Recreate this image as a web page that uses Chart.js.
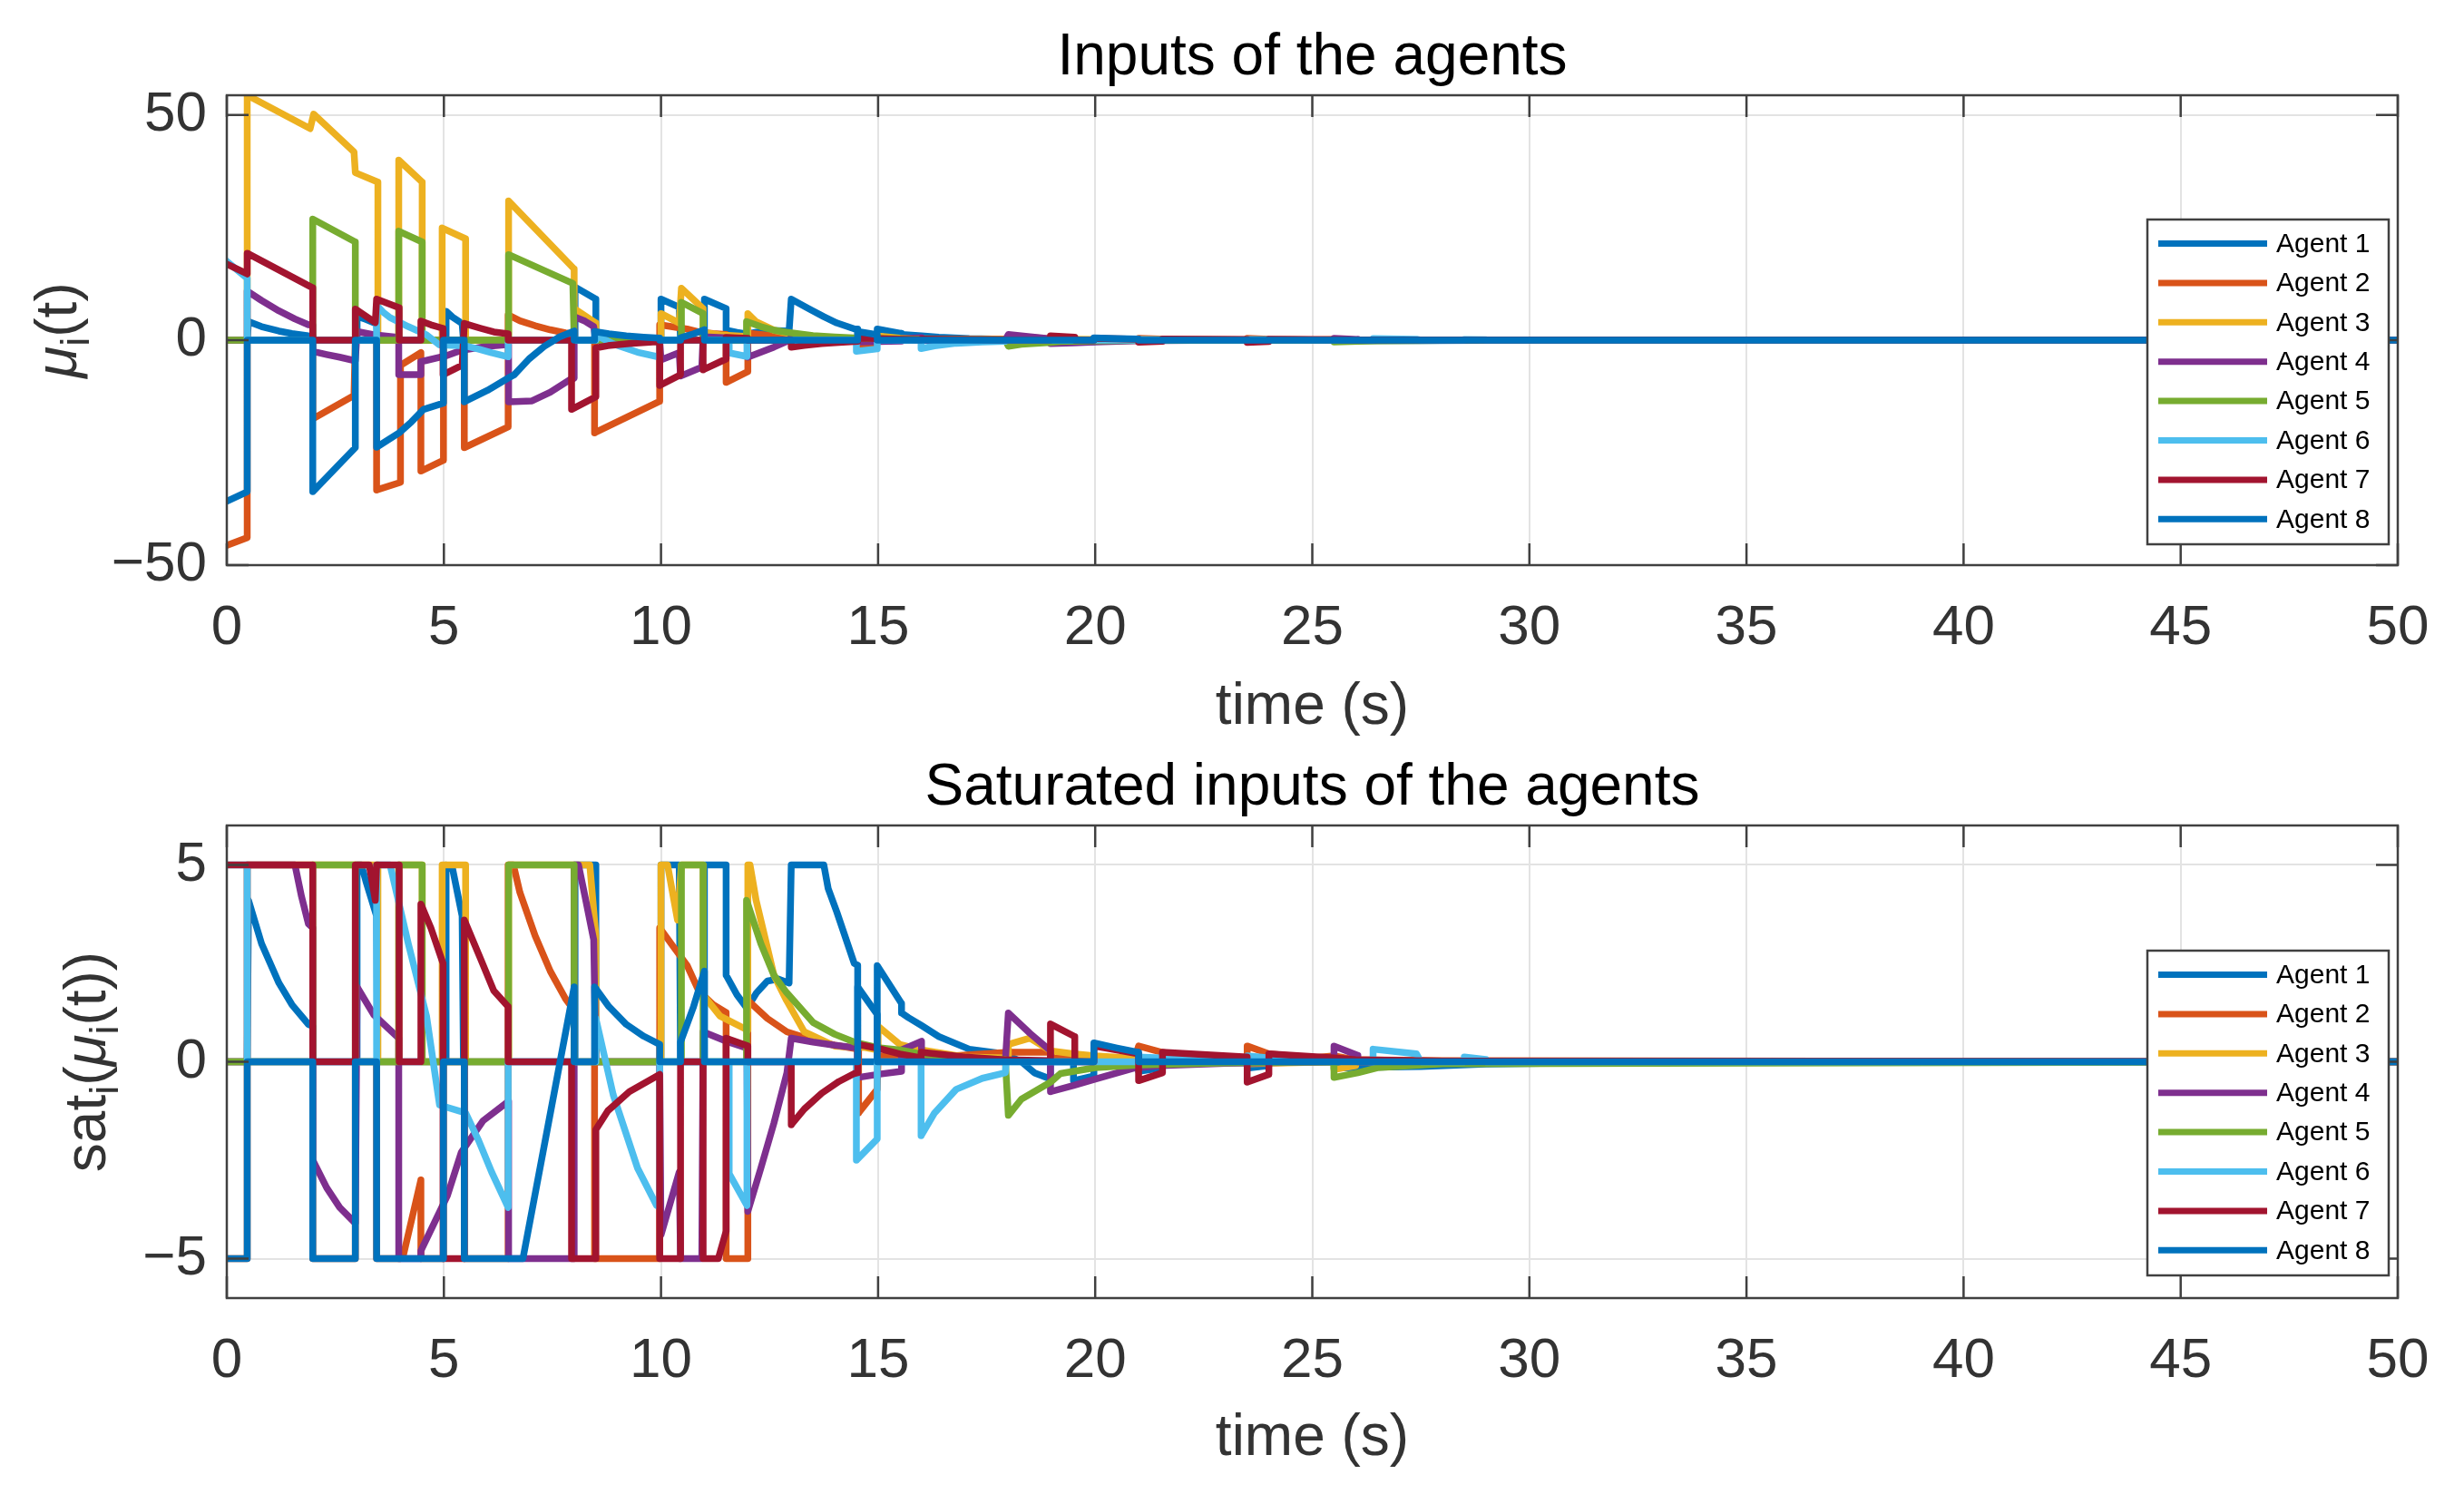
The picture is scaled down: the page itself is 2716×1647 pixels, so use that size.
<!DOCTYPE html>
<html>
<head>
<meta charset="utf-8">
<title>Inputs of the agents</title>
<script src="https://cdn.jsdelivr.net/npm/chart.js@4.4.1/dist/chart.umd.min.js"></script>
<style>
  html, body { margin: 0; padding: 0; background: #fff; }
  canvas { display: block; }
</style>
</head>
<body>
<canvas id="top" width="2716" height="820"></canvas>
<canvas id="bot" width="2716" height="827"></canvas>
<script>
// ── Data: [t, value] pairs ─────────────────────────────────────
const agents = ['Agent 1', 'Agent 2', 'Agent 3', 'Agent 4', 'Agent 5', 'Agent 6', 'Agent 7', 'Agent 8'];
const colors = ['#0072BD', '#D95319', '#EDB120', '#7E2F8E', '#77AC30', '#4DBEEE', '#A2142F', '#0072BD'];

const xTicks = [0, 5, 10, 15, 20, 25, 30, 35, 40, 45, 50];
const yTicksTop = [-50, 0, 50];
const yTicksBot = [-5, 0, 5];

// mu_i(t) up to t ~ 14.5
const mu1 = [[0,0],[0.47,0],[0.5,4.1],[0.8,3.0],[1.2,2.0],[1.5,1.45],[1.88,0.95],[1.98,0.9],[1.98,0],[3.0,0],[3.0,5.3],[3.2,4.6],[3.45,3.6],[3.47,0],[5.05,0],[5.05,6.4],[5.2,5.1],[5.42,3.7],[5.45,0],[8.02,0],[8.02,11.8],[8.5,9.1],[8.5,0],[10.0,0],[10.0,9.1],[10.42,7.3],[10.45,0],[11.0,0],[11.0,9.1],[11.5,7.0],[11.5,2.2],[11.75,1.7],[11.98,1.36],[12.2,1.75],[12.45,2.05],[12.7,2.1],[12.95,2.0],[13.0,9.1],[13.4,7.0],[13.75,5.2],[14.05,3.8],[14.45,2.5]];
const mu2 = [[0,-45.6],[0.47,-43.9],[0.47,0],[1.98,0],[1.98,-17.5],[2.93,-12.3],[2.96,0],[3.45,0],[3.45,-33.3],[4.0,-31.6],[4.0,-5.6],[4.47,-2.8],[4.47,-29.1],[4.99,-26.7],[4.99,0],[5.47,0],[5.47,-23.9],[6.48,-19.3],[6.48,5.6],[6.75,4.3],[7.1,3.2],[7.45,2.3],[7.8,1.6],[8.0,1.3],[8.0,0],[8.47,0],[8.47,-20.6],[9.97,-13.6],[9.97,3.4],[10.3,2.9],[10.6,2.45],[10.87,1.8],[11.2,1.45],[11.5,1.25],[11.5,-9.4],[12.0,-7.0],[12.0,1.56],[12.45,1.1],[12.9,0.76],[13.5,0.55],[14.0,0.42],[14.45,0.34]];
const mu3 = [[0,0],[0.47,0],[0.47,54.4],[1.92,47.0],[2.0,50.2],[2.93,41.8],[2.96,37.2],[3.48,35.1],[3.48,0],[3.96,0],[3.96,40.0],[4.5,35.1],[4.5,0],[4.96,0],[4.96,24.9],[5.5,22.5],[5.5,0],[6.49,0],[6.49,30.9],[8.0,15.8],[8.0,7.0],[8.5,3.8],[8.5,0],[10.0,0],[10.0,5.9],[10.42,3.8],[10.47,11.5],[10.97,7.0],[10.97,1.7],[11.36,1.16],[12.0,0.8],[12.0,5.9],[12.19,4.1],[12.6,2.2],[12.89,1.56],[13.3,0.76],[14.0,0.4],[14.45,0.37]];
const mu4 = [[0,0],[0.47,0],[0.47,10.9],[0.8,8.8],[1.2,6.5],[1.57,4.7],[1.88,3.4],[1.98,3.3],[1.98,-2.5],[2.3,-3.2],[2.6,-3.8],[2.96,-4.6],[3.0,1.9],[3.38,1.2],[3.96,0.6],[3.96,-7.7],[4.47,-7.7],[4.47,-4.8],[5.08,-3.4],[5.4,-2.3],[5.9,-1.5],[6.49,-1.0],[6.49,-13.7],[7.03,-13.5],[7.45,-11.6],[7.9,-8.8],[8.0,-8.5],[8.0,5.2],[8.25,4.2],[8.45,3.0],[8.5,0],[9.97,0],[10.0,-4.4],[10.42,-2.8],[10.45,-8.0],[10.94,-6.0],[10.97,0.76],[11.55,0.5],[11.98,0.35],[12.0,-3.8],[12.3,-2.7],[12.6,-1.56],[12.9,-0.28],[13.0,0.6],[13.5,0.5],[14.0,0.42],[14.45,0.36]];
const mu5 = [[0,0],[1.98,0],[1.98,26.9],[2.96,21.8],[2.96,0],[3.96,0],[3.96,24.2],[4.5,21.8],[4.5,0],[6.49,0],[6.49,19.0],[7.97,12.6],[8.0,0],[10.47,0],[10.47,8.4],[10.97,5.9],[10.97,0],[11.97,0],[11.97,4.1],[12.3,3.0],[12.6,2.2],[12.89,1.76],[13.5,1.0],[14.0,0.7],[14.45,0.5]];
const mu6 = [[0,17.5],[0.47,13.7],[0.47,0],[3.45,0],[3.45,7.7],[3.6,6.2],[3.76,5.0],[4.18,3.0],[4.6,1.16],[4.9,-1.1],[5.5,-1.3],[5.8,-2.0],[6.1,-2.8],[6.48,-3.7],[6.48,0],[8.5,0],[8.5,1.1],[8.9,-0.84],[9.46,-2.7],[9.9,-3.65],[9.97,-3.7],[9.97,0],[11.57,0],[11.57,-2.84],[11.98,-3.65],[11.98,0],[14.45,0]];
const mu7 = [[0,16.9],[0.47,14.7],[0.47,19.3],[1.98,11.6],[1.98,0],[2.96,0],[2.96,6.9],[3.42,3.9],[3.45,9.1],[3.97,7.2],[3.97,0],[4.47,0],[4.47,4.2],[4.7,3.4],[4.98,2.6],[4.98,-7.7],[5.42,-5.6],[5.47,3.7],[5.85,2.6],[6.15,1.8],[6.48,1.4],[6.48,0],[7.94,0],[7.94,-15.4],[8.5,-12.6],[8.5,-1.72],[8.78,-1.24],[9.27,-0.76],[9.97,-0.32],[9.97,-10.1],[10.45,-7.7],[10.45,0],[10.97,0],[10.97,-6.6],[11.5,-4.2],[11.5,0.6],[12.0,0.4],[12.0,0],[13.0,0],[13.0,-1.6],[13.3,-1.2],[13.7,-0.8],[14.1,-0.5],[14.45,-0.3]];
const mu8 = [[0,-35.8],[0.47,-33.7],[0.47,0],[1.98,0],[1.98,-33.7],[2.96,-23.9],[2.96,0],[3.45,0],[3.45,-23.8],[3.97,-20.6],[4.25,-18.2],[4.53,-15.4],[4.99,-14.0],[4.99,0],[5.47,0],[5.47,-13.7],[6.0,-11.2],[6.49,-8.4],[6.62,-7.7],[6.96,-4.2],[7.31,-1.4],[7.66,0.7],[8.0,2.0],[8.0,0],[8.47,0],[8.47,1.9],[8.8,1.4],[9.2,0.95],[9.6,0.65],[9.97,0.44],[9.97,0],[10.45,0],[10.45,0.5],[10.75,1.4],[11.0,2.3],[11.0,0],[14.45,0]];

// sat_i(mu_i(t)) up to t ~ 14.5
const sat1 = [[0,0],[0.47,0],[0.5,4.1],[0.8,3.0],[1.2,2.0],[1.5,1.45],[1.88,0.95],[1.98,0.9],[1.98,0],[3.0,0],[3.0,5],[3.1,5],[3.2,4.6],[3.45,3.7],[3.47,0],[5.05,0],[5.05,5],[5.2,4.9],[5.42,3.7],[5.45,0],[8.02,0],[8.02,5],[8.5,5],[8.5,0],[10.0,0],[10.0,5],[10.42,5],[10.45,0],[11.0,0],[11.0,5],[11.5,5],[11.5,2.2],[11.75,1.7],[11.98,1.36],[12.2,1.75],[12.45,2.05],[12.7,2.1],[12.95,2.0],[13.0,5],[13.75,5],[13.85,4.4],[14.05,3.8],[14.45,2.5]];
const sat2 = [[0,-5],[0.47,-5],[0.47,0],[1.98,0],[1.98,-5],[2.96,-5],[2.96,0],[3.45,0],[3.45,-5],[4.0,-5],[4.07,-4.9],[4.47,-3.0],[4.47,-5],[4.99,-5],[4.99,0],[5.47,0],[5.47,-5],[6.48,-5],[6.48,5],[6.6,5],[6.75,4.3],[7.1,3.2],[7.45,2.3],[7.8,1.6],[8.0,1.3],[8.0,0],[8.47,0],[8.47,-5],[9.97,-5],[9.97,3.4],[10.3,2.9],[10.6,2.45],[10.87,1.8],[11.2,1.45],[11.5,1.25],[11.5,-5],[12.0,-5],[12.0,1.56],[12.45,1.1],[12.9,0.76],[13.5,0.55],[14.0,0.42],[14.45,0.34]];
const sat3 = [[0,0],[0.47,0],[0.47,5],[3.48,5],[3.48,0],[3.96,0],[3.96,5],[4.5,5],[4.5,0],[4.96,0],[4.96,5],[5.5,5],[5.5,0],[6.49,0],[6.49,5],[8.36,5],[8.5,3.2],[8.5,0],[10.0,0],[10.0,5],[10.15,5],[10.38,3.6],[10.47,5],[10.97,5],[10.97,1.7],[11.36,1.16],[12.0,0.8],[12.0,5],[12.05,5],[12.19,4.1],[12.6,2.2],[12.89,1.56],[13.3,0.76],[14.0,0.4],[14.45,0.37]];
const sat4 = [[0,0],[0.47,0],[0.47,5],[1.57,5],[1.72,4.2],[1.88,3.5],[1.98,3.4],[1.98,-2.5],[2.3,-3.2],[2.6,-3.7],[2.96,-4.1],[3.0,1.9],[3.38,1.2],[3.96,0.6],[3.96,-5],[4.47,-5],[4.47,-4.8],[5.08,-3.4],[5.4,-2.3],[5.9,-1.5],[6.49,-1.0],[6.49,-5],[8.0,-5],[8.0,5],[8.1,5],[8.25,4.2],[8.45,3.1],[8.5,0],[9.97,0],[10.0,-4.4],[10.42,-2.8],[10.45,-5],[10.94,-5],[10.97,0.76],[11.55,0.5],[11.98,0.35],[12.0,-3.8],[12.3,-2.7],[12.6,-1.56],[12.9,-0.28],[13.0,0.6],[13.5,0.5],[14.0,0.42],[14.45,0.36]];
const sat5 = [[0,0],[1.98,0],[1.98,5],[2.96,5],[2.96,0],[3.96,0],[3.96,5],[4.5,5],[4.5,0],[6.49,0],[6.49,5],[8.0,5],[8.0,0],[10.47,0],[10.47,5],[10.97,5],[10.97,0],[11.97,0],[11.97,4.1],[12.3,3.0],[12.6,2.2],[12.89,1.76],[13.5,1.0],[14.0,0.7],[14.45,0.5]];
const sat6 = [[0,5],[0.47,5],[0.47,0],[3.45,0],[3.45,5],[3.76,5],[4.18,3.0],[4.6,1.16],[4.9,-1.1],[5.5,-1.3],[5.8,-2.0],[6.1,-2.8],[6.48,-3.7],[6.48,0],[8.5,0],[8.5,1.1],[8.9,-0.84],[9.46,-2.7],[9.9,-3.65],[9.97,-3.7],[9.97,0],[11.57,0],[11.57,-2.84],[11.98,-3.65],[11.98,0],[14.45,0]];
const sat7 = [[0,5],[1.98,5],[1.98,0],[2.96,0],[2.96,5],[3.28,5],[3.42,4.1],[3.45,5],[3.97,5],[3.97,0],[4.47,0],[4.47,4.0],[4.7,3.4],[4.98,2.5],[4.98,-5],[5.47,-5],[5.47,3.6],[5.85,2.6],[6.15,1.8],[6.48,1.4],[6.48,0],[7.94,0],[7.94,-5],[8.5,-5],[8.5,-1.72],[8.78,-1.24],[9.27,-0.76],[9.97,-0.32],[9.97,-5],[10.45,-5],[10.45,0],[10.97,0],[10.97,-5],[11.32,-5],[11.5,-4.3],[11.5,0.6],[12.0,0.4],[12.0,0],[13.0,0],[13.0,-1.6],[13.3,-1.2],[13.7,-0.8],[14.1,-0.5],[14.45,-0.3]];
const sat8 = [[0,-5],[0.47,-5],[0.47,0],[1.98,0],[1.98,-5],[2.96,-5],[2.96,0],[3.45,0],[3.45,-5],[4.99,-5],[4.99,0],[5.47,0],[5.47,-5],[6.82,-5],[8.0,1.9],[8.0,0],[8.47,0],[8.47,1.9],[8.8,1.4],[9.2,0.95],[9.6,0.65],[9.97,0.44],[9.97,0],[10.45,0],[10.45,0.5],[10.75,1.4],[11.0,2.3],[11.0,0],[14.45,0]];

// after t ~ 14.5 every input is inside the band, so both panels share it
const tail1 = [[14.53,2.45],[14.53,0],[14.98,0],[14.98,2.44],[15.54,1.48],[15.54,1.24],[15.7,1.12],[16.0,0.92],[16.4,0.64],[17.1,0.32],[17.9,0.2],[18.3,0],[18.6,-0.28],[18.97,-0.44],[18.97,0],[19.5,0],[19.5,-0.48],[19.97,-0.36],[19.97,0],[21.0,0],[21.0,-0.24],[21.5,-0.16],[21.5,0],[23.5,0],[23.5,-0.16],[24.0,-0.1],[24.0,0],[25.5,0],[25.5,-0.16],[26.4,-0.14],[27.5,-0.12],[29,-0.06],[32,-0.02],[36,0],[50,0]];
const tail2 = [[14.55,0.3],[14.55,-1.3],[14.98,-0.7],[15.0,0.15],[16,0.1],[18,0.24],[19,0.24],[19,0.1],[20.9,0.05],[21,0.4],[21.5,0.25],[22,0.15],[23.5,0.1],[23.5,0.4],[24,0.2],[25,0.1],[25.5,0.15],[26,0.05],[28,0.03],[50,0]];
const tail3 = [[14.7,0.36],[15.0,0.3],[15.0,0.9],[15.5,0.44],[16,0.3],[17,0.12],[18,0.1],[18,0.44],[18.5,0.6],[18.97,0.28],[19.5,0.2],[20,0.15],[21,0.08],[23.5,0.04],[23.5,-0.05],[25.5,0],[25.5,-0.2],[26,-0.1],[26,0],[50,0]];
const tail4 = [[14.53,0.35],[14.53,-0.4],[15.0,-0.32],[15.54,-0.24],[15.54,0.3],[16.0,0.52],[16.0,0],[17.93,0],[18.0,1.24],[18.5,0.72],[18.97,0.28],[18.97,-0.76],[19.5,-0.6],[20,-0.44],[20.9,-0.16],[21.5,-0.1],[23,-0.04],[25.5,0],[25.5,0.4],[26.05,0.16],[26.05,0],[50,0]];
const tail5 = [[15.0,0.36],[15.5,0.3],[16.0,0.2],[17.0,0.1],[17.93,0.05],[18.0,-1.36],[18.3,-0.95],[18.97,-0.52],[19.2,-0.3],[20,-0.15],[21,-0.08],[23,-0.03],[25.5,0],[25.5,-0.4],[26.05,-0.28],[26.5,-0.15],[28,-0.05],[50,0]];
const tail6 = [[14.5,0],[14.5,-2.5],[14.98,-1.96],[14.98,0],[15.99,0],[15.99,-1.88],[16.3,-1.3],[16.8,-0.7],[17.4,-0.42],[17.93,-0.28],[17.95,0],[21,0],[21,0.12],[21.5,0.1],[23.5,0.05],[23.5,0.15],[24,0.1],[26.4,0],[26.4,0.32],[27.4,0.2],[27.5,0],[28.5,0],[28.5,0.12],[29,0.06],[29,0],[50,0]];
const tail7 = [[14.53,-0.28],[14.53,0.44],[15.0,0.34],[15.5,0.2],[15.99,0.1],[15.99,0.24],[17.0,0.12],[17.9,0.05],[18.97,0.03],[18.97,0.96],[19.53,0.64],[19.53,0],[19.97,0],[19.97,0.4],[21.0,0.2],[21.0,-0.48],[21.55,-0.28],[21.55,0.24],[23.5,0.12],[23.5,-0.52],[24.0,-0.32],[24.0,0.2],[25.5,0.1],[26,0.05],[28,0.02],[50,0]];
const tail8 = [[14.53,0],[14.53,1.9],[14.98,1.2],[14.98,0],[19.97,0],[19.97,0.48],[20.5,0.35],[21.0,0.24],[21.0,0],[50,0]];

const muHeads  = [mu1, mu2, mu3, mu4, mu5, mu6, mu7, mu8];
const satHeads = [sat1, sat2, sat3, sat4, sat5, sat6, sat7, sat8];
const tails    = [tail1, tail2, tail3, tail4, tail5, tail6, tail7, tail8];

// ── Look ─────────────────────────────────────────────────────
const FONT = '"Liberation Sans", Arial, Helvetica, sans-serif';
Chart.defaults.font.family = FONT;
Chart.defaults.color = '#333';

const axisColor = '#404040';
const gridColor = '#e3e3e3';

const pts = arr => arr.map(([x, y]) => ({ x, y }));
const minus = v => String(v).replace('-', '\u2212');

// box, inward ticks, legend, title and y label (MATLAB style)
const matlabFrame = {
  id: 'matlabFrame',
  afterDatasetsDraw(chart, args, o) {
    const { ctx, chartArea: a, scales: { x, y } } = chart;
    ctx.save();

    // inward tick marks and the full box
    ctx.strokeStyle = axisColor;
    ctx.lineWidth = 2.5;
    ctx.beginPath();
    x.ticks.forEach(t => {
      const px = x.getPixelForValue(t.value);
      ctx.moveTo(px, a.bottom); ctx.lineTo(px, a.bottom - 24);
      ctx.moveTo(px, a.top);    ctx.lineTo(px, a.top + 24);
    });
    y.ticks.forEach(t => {
      const py = y.getPixelForValue(t.value);
      ctx.moveTo(a.left, py);  ctx.lineTo(a.left + 24, py);
      ctx.moveTo(a.right, py); ctx.lineTo(a.right - 24, py);
    });
    ctx.stroke();
    ctx.strokeRect(a.left, a.top, a.right - a.left, a.bottom - a.top);

    // legend box inside the axes
    const bx = a.right - 276, by = a.top + o.legendTop, bw = 266, bh = 358;
    ctx.fillStyle = '#fff';
    ctx.fillRect(bx, by, bw, bh);
    ctx.strokeRect(bx, by, bw, bh);
    ctx.font = '30px ' + FONT;
    ctx.textBaseline = 'middle';
    ctx.textAlign = 'left';
    chart.data.datasets.forEach((ds, i) => {
      const ry = by + 26.5 + i * 43.4;
      ctx.strokeStyle = ds.borderColor;
      ctx.lineWidth = 7;
      ctx.beginPath();
      ctx.moveTo(bx + 12, ry); ctx.lineTo(bx + 132, ry);
      ctx.stroke();
      ctx.fillStyle = '#000';
      ctx.fillText(ds.label, bx + 142, ry + 1);
    });

    // title
    ctx.font = '64px ' + FONT;
    ctx.fillStyle = '#000';
    ctx.textAlign = 'center';
    ctx.textBaseline = 'alphabetic';
    ctx.fillText(o.title, (a.left + a.right) / 2, a.top - 23);

    // rotated y label with subscripts
    const size = 64;
    const fontOf = p => (p.it ? 'italic ' : '') + (p.sub ? size * 0.7 : size) + 'px ' + FONT;
    ctx.translate(o.labelX, (a.top + a.bottom) / 2);
    ctx.rotate(-Math.PI / 2);
    ctx.fillStyle = '#333';
    ctx.textAlign = 'left';
    let total = 0;
    o.label.forEach(p => { ctx.font = fontOf(p); total += ctx.measureText(p.t).width; });
    let cx = -total / 2;
    o.label.forEach(p => {
      ctx.font = fontOf(p);
      ctx.fillText(p.t, cx, p.sub ? size * 0.22 : 0);
      cx += ctx.measureText(p.t).width;
    });
    ctx.restore();
  },
};

function buildPanel(canvasId, heads, yMin, yMax, yTicks, p) {
  const ctx = document.getElementById(canvasId).getContext('2d');
  return new Chart(ctx, {
    type: 'scatter',
    data: {
      datasets: agents.map((name, i) => ({
        label: name,
        data: pts([...heads[i], ...tails[i]]),
        showLine: true,
        borderColor: colors[i],
        backgroundColor: colors[i],
        borderWidth: 7.5,
        borderJoinStyle: 'round',
        borderCapStyle: 'round',
        pointRadius: 0,
        tension: 0,
        order: 8 - i,   // last agent on top, like MATLAB
      })),
    },
    options: {
      responsive: false,
      animation: false,
      devicePixelRatio: 1,
      layout: { padding: { top: p.top, right: 73, bottom: 0, left: 0 } },
      plugins: {
        legend: { display: false },
        tooltip: { enabled: false },
        matlabFrame: { title: p.title, label: p.label, labelX: p.labelX, legendTop: p.legendTop },
      },
      scales: {
        x: {
          type: 'linear',
          min: 0,
          max: 50,
          afterBuildTicks: s => { s.ticks = xTicks.map(v => ({ value: v })); },
          afterFit: s => { s.height = p.xHeight; },
          grid: { color: gridColor, lineWidth: 2, drawTicks: false },
          border: { display: false },
          ticks: { font: { size: 62 }, color: '#333', padding: 33, maxRotation: 0, autoSkip: false },
          title: {
            display: true,
            text: 'time (s)',
            color: '#333',
            font: { size: 64, lineHeight: 1 },
            padding: { top: 0, bottom: p.xTitlePad },
          },
        },
        y: {
          type: 'linear',
          min: yMin,
          max: yMax,
          afterBuildTicks: s => { s.ticks = yTicks.map(v => ({ value: v })); },
          afterFit: s => { s.width = 250; },
          grid: { color: gridColor, lineWidth: 2, drawTicks: false },
          border: { display: false },
          ticks: { font: { size: 62 }, color: '#333', padding: 22, callback: v => minus(v) },
        },
      },
    },
    plugins: [matlabFrame],
  });
}

// ── Top panel: raw inputs ─────────────────────────────────────
buildPanel('top', muHeads, -50, 54.4, yTicksTop, {
  top: 105, xHeight: 197, xTitlePad: 8, legendTop: 137, labelX: 84,
  title: 'Inputs of the agents',
  label: [{ t: '\u03bc', it: true }, { t: 'i', sub: true }, { t: '(t)' }],
});

// ── Bottom panel: saturated inputs ────────────────────────────
buildPanel('bot', satHeads, -6, 6, yTicksBot, {
  top: 90, xHeight: 216, xTitlePad: 29, legendTop: 138, labelX: 116,
  title: 'Saturated inputs of the agents',
  label: [{ t: 'sat' }, { t: 'i', sub: true }, { t: '(' }, { t: '\u03bc', it: true }, { t: 'i', sub: true }, { t: '(t))' }],
});
</script>
</body>
</html>
